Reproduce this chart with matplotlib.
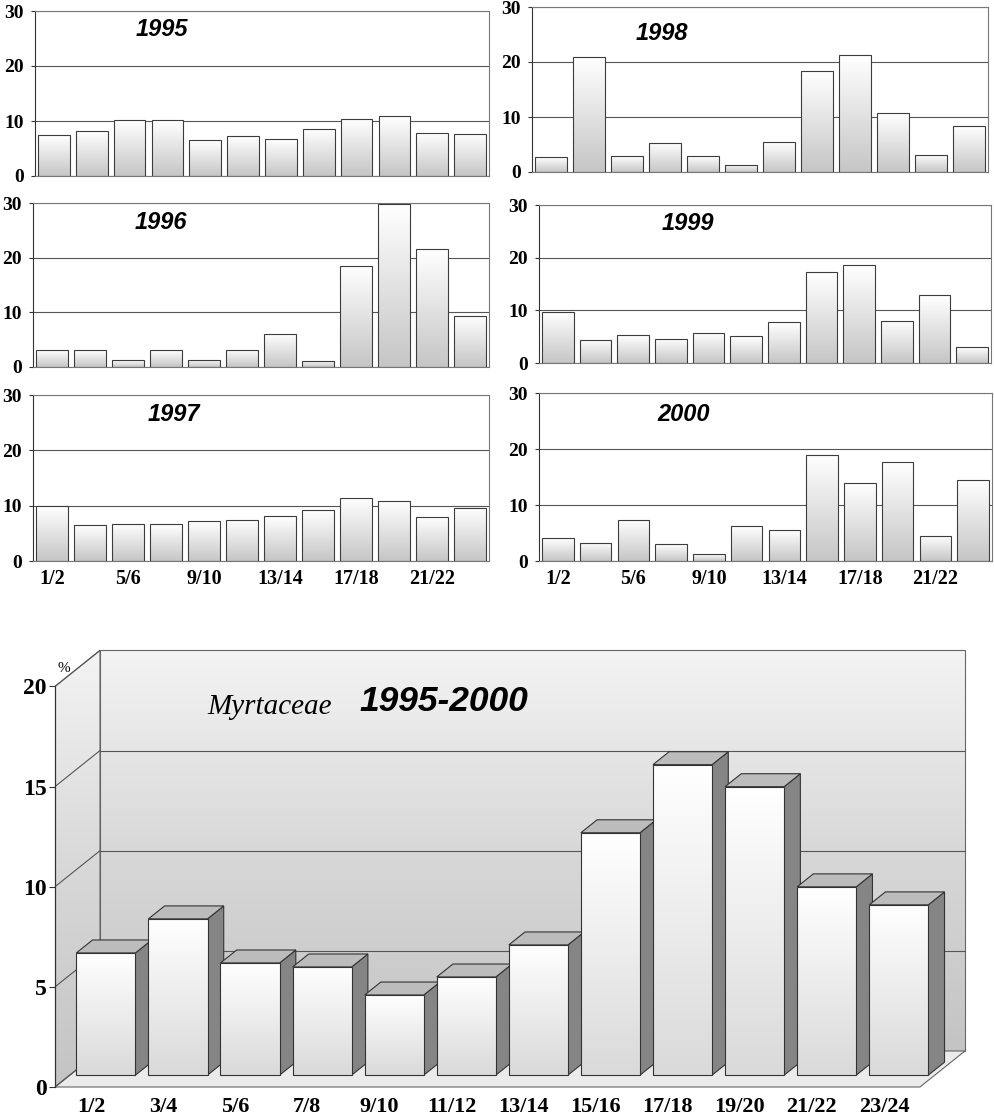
import numpy as np
import matplotlib.pyplot as plt
from matplotlib.patches import Polygon, Rectangle
from matplotlib.colors import LinearSegmentedColormap

plt.switch_backend("Agg")

W, H = 995, 1119

labels = ["1/2", "3/4", "5/6", "7/8", "9/10", "11/12",
          "13/14", "15/16", "17/18", "19/20", "21/22", "23/24"]

v1995 = [7.4, 8.2, 10.1, 10.1, 6.5, 7.2, 6.7, 8.6, 10.4, 10.9, 7.9, 7.7]
v1996 = [3.1, 3.1, 1.2, 3.1, 1.3, 3.2, 6.1, 1.1, 18.5, 29.9, 21.6, 9.4]
v1997 = [9.9, 6.5, 6.7, 6.6, 7.2, 7.5, 8.1, 9.2, 11.4, 10.9, 8.0, 9.6]
v1998 = [2.7, 20.9, 2.9, 5.3, 2.9, 1.3, 5.4, 18.4, 21.2, 10.8, 3.1, 8.3]
v1999 = [9.7, 4.4, 5.3, 4.6, 5.7, 5.1, 7.7, 17.2, 18.7, 8.0, 12.9, 3.0]
v2000 = [4.1, 3.3, 7.4, 3.0, 1.25, 6.25, 5.5, 19.0, 14.0, 17.7, 4.5, 14.5]
mean_all = [6.1, 7.8, 5.6, 5.4, 4.0, 4.9, 6.5, 12.1, 15.5, 14.4, 9.4, 8.5]

SERIF = "Liberation Serif"
SANS = "Liberation Sans"

grad = np.linspace(0, 1, 64).reshape(-1, 1)
bar_cmap = LinearSegmentedColormap.from_list("bar", ["#c6c6c6", "#ffffff"])
front_cmap = LinearSegmentedColormap.from_list("front", ["#dadada", "#ffffff"])
wall_cmap = LinearSegmentedColormap.from_list("wall", ["#c4c4c4", "#d8d8d8", "#f3f3f3"])


def grad_fill(ax, patch, extent, cmap, z):
    im = ax.imshow(grad, extent=extent, origin="lower", cmap=cmap, vmin=0, vmax=1,
                   aspect="auto", zorder=z, interpolation="bilinear")
    im.set_clip_path(patch)


def px_axes(fig, l, t, r, b):
    return fig.add_axes([l / W, 1 - b / H, (r - l) / W, (b - t) / H])


def small_panel(ax, vals, year, tx, ty, show_x):
    w = 0.84
    for i, v in enumerate(vals):
        r = Rectangle((i - w / 2, 0), w, v, facecolor="none", edgecolor="#3c3c3c",
                      lw=0.8, zorder=3)
        ax.add_patch(r)
        grad_fill(ax, r, [i - w / 2, i + w / 2, 0, v], bar_cmap, 2)
    ax.set_xlim(-0.5, 11.5)
    ax.set_ylim(0, 30)
    ax.set_yticks([0, 10, 20, 30])
    ax.yaxis.grid(True, color="#555555", lw=0.8, zorder=1)
    ax.set_axisbelow(True)
    for s in ax.spines.values():
        s.set_color("#777777")
        s.set_linewidth(0.8)
    ax.spines["left"].set_color("#333333")
    ax.tick_params(axis="y", length=3, width=0.8, pad=5, color="#333333")
    for t in ax.get_yticklabels():
        t.set_fontfamily(SERIF)
        t.set_fontweight("bold")
        t.set_fontsize(14)
    if show_x:
        ax.set_xticks(range(0, 12, 2))
        ax.set_xticklabels(labels[::2], fontfamily=SERIF, fontweight="bold", fontsize=14.5)
        ax.tick_params(axis="x", length=0, pad=6)
    else:
        ax.set_xticks([])
    ax.text(tx, ty, year, transform=ax.transAxes, ha="center", va="center",
            fontfamily=SANS, fontweight="bold", fontstyle="italic", fontsize=17)


fig = plt.figure(figsize=(W / 100, H / 100), dpi=100)

small_panel(px_axes(fig, 35, 11, 489, 176), v1995, "1995", 0.28, 0.89, False)
small_panel(px_axes(fig, 33, 203, 489, 367), v1996, "1996", 0.28, 0.88, False)
small_panel(px_axes(fig, 33, 395, 489, 561), v1997, "1997", 0.31, 0.885, True)
small_panel(px_axes(fig, 532, 7, 988, 172), v1998, "1998", 0.285, 0.84, False)
small_panel(px_axes(fig, 539, 205, 991, 363), v1999, "1999", 0.33, 0.88, False)
small_panel(px_axes(fig, 539, 393, 992, 561), v2000, "2000", 0.32, 0.87, True)

# big pseudo-3D chart
ax = px_axes(fig, 55, 640, 975, 1093)
xs = 72.08   # px per category
ys = 20.03   # px per unit
ax.set_xlim(-0.5, -0.5 + 920 / xs)
ax.set_ylim((1087 - 1093) / ys, (1087 - 640) / ys)
Dx, Dy = 45 / xs, 36 / ys
x_l, x_r = -0.5, 11.5
ytop = 20

# back wall
back = Rectangle((x_l + Dx, Dy), x_r - x_l, ytop, facecolor="none",
                 edgecolor="#666666", lw=0.8, zorder=1)
ax.add_patch(back)
grad_fill(ax, back, [x_l + Dx, x_r + Dx, Dy, ytop + Dy], wall_cmap, 0.5)
# left wall
side_wall = Polygon([(x_l, 0), (x_l + Dx, Dy), (x_l + Dx, ytop + Dy), (x_l, ytop)],
                    closed=True, facecolor="none", edgecolor="#666666", lw=0.8, zorder=1)
ax.add_patch(side_wall)
grad_fill(ax, side_wall, [x_l, x_l + Dx, 0, ytop + Dy], wall_cmap, 0.5)
# floor
floor = Polygon([(x_l, 0), (x_r, 0), (x_r + Dx, Dy), (x_l + Dx, Dy)], closed=True,
                facecolor="#ebebeb", edgecolor="#666666", lw=0.8, zorder=1)
ax.add_patch(floor)

for v in [5, 10, 15]:
    ax.plot([x_l + Dx, x_r + Dx], [v + Dy, v + Dy], color="#555555", lw=0.8, zorder=1.2)
for v in [0, 5, 10, 15, 20]:
    ax.plot([x_l, x_l + Dx], [v, v + Dy], color="#555555", lw=0.8, zorder=1.2)

bw = 0.82
f0, f1 = 0.33, 0.69
for i, v in enumerate(mean_all):
    z = 3 + i * 0.1
    x0 = i - bw / 2 + f0 * Dx
    y0 = f0 * Dy
    x1 = x0 + bw
    ddx, ddy = (f1 - f0) * Dx, (f1 - f0) * Dy
    side = Polygon([(x1, y0), (x1 + ddx, y0 + ddy), (x1 + ddx, y0 + ddy + v), (x1, y0 + v)],
                   closed=True, facecolor="#858585", edgecolor="#333333", lw=0.8, zorder=z)
    top = Polygon([(x0, y0 + v), (x1, y0 + v), (x1 + ddx, y0 + v + ddy), (x0 + ddx, y0 + v + ddy)],
                  closed=True, facecolor="#bcbcbc", edgecolor="#333333", lw=0.8, zorder=z)
    front = Rectangle((x0, y0), bw, v, facecolor="none", edgecolor="#333333", lw=0.8,
                      zorder=z + 0.02)
    ax.add_patch(side)
    ax.add_patch(top)
    ax.add_patch(front)
    grad_fill(ax, front, [x0, x1, y0, y0 + v], front_cmap, z + 0.01)

for s in ["top", "right", "bottom"]:
    ax.spines[s].set_visible(False)
ax.spines["left"].set_bounds(0, 20)
ax.spines["left"].set_color("#333333")
ax.spines["left"].set_linewidth(0.9)
ax.patch.set_alpha(0)
ax.set_yticks([0, 5, 10, 15, 20])
ax.tick_params(axis="y", length=4, width=0.8, pad=2, color="#333333")
for t in ax.get_yticklabels():
    t.set_fontfamily(SERIF)
    t.set_fontweight("bold")
    t.set_fontsize(17)
ax.set_xticks(range(12))
ax.set_xticklabels(labels, fontfamily=SERIF, fontweight="bold", fontsize=16)
ax.tick_params(axis="x", length=0, pad=3)

ax.annotate("%", xy=(-0.5, 20), xytext=(1.5, 8), textcoords="offset points",
            fontfamily=SERIF, fontsize=11, ha="left", va="bottom")
ax.text(1.62, 18.6, "Myrtaceae", fontfamily=SERIF, fontstyle="italic", fontsize=21,
        ha="left", va="baseline", zorder=10)
ax.text(3.73, 18.77, "1995-2000", fontfamily=SANS, fontweight="bold", fontstyle="italic",
        fontsize=25.5, ha="left", va="baseline", zorder=10)

fig.savefig("out.png", dpi=100)
